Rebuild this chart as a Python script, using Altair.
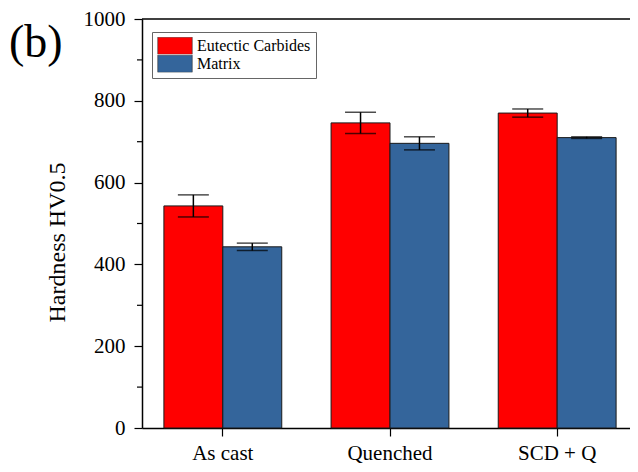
import altair as alt
import pandas as pd

categories = ["As cast", "Quenched", "SCD + Q"]
series = ["Eutectic Carbides", "Matrix"]
eutectic = [543, 746, 770]
eutectic_err = [27, 26, 10]
matrix = [443, 696, 710]
matrix_err = [9, 16, 2]
y_ticks = [0, 200, 400, 600, 800, 1000]
y_minor = [100, 300, 500, 700, 900]
colors = ["#FF0000", "#34659B"]

FONT = "Liberation Serif"
W, H = 496, 409

rows = []
for c, v, e in zip(categories, eutectic, eutectic_err):
    rows.append({"cat": c, "series": series[0], "val": v, "lo": v - e, "hi": v + e})
for c, v, e in zip(categories, matrix, matrix_err):
    rows.append({"cat": c, "series": series[1], "val": v, "lo": v - e, "hi": v + e})
df = pd.DataFrame(rows)

x_enc = alt.X(
    "cat:N", sort=categories,
    scale=alt.Scale(paddingInner=0.295, paddingOuter=0.131),
    axis=alt.Axis(title=None, labelFont=FONT, labelFontSize=21, labelColor="black",
                  labelPadding=6, tickSize=8, tickColor="black", tickWidth=1.2,
                  domainColor="black", domainWidth=1.5, labelAngle=0),
)
xo_enc = alt.XOffset("series:N", sort=series, scale=alt.Scale(paddingInner=0, paddingOuter=0))
y_scale = alt.Scale(domain=[0, 1000], nice=False)

base = alt.Chart(df)

bars = base.mark_bar(stroke="#1a1a1a", strokeWidth=1).encode(
    x=x_enc,
    xOffset=xo_enc,
    y=alt.Y("val:Q", scale=y_scale,
            axis=alt.Axis(values=y_ticks, format="d", title="Hardness HV0.5", grid=False,
                          labelFont=FONT, labelFontSize=21, labelColor="black",
                          labelPadding=9, tickSize=8, tickColor="black", tickWidth=1.2,
                          domainColor="black", domainWidth=1.5,
                          titleFont=FONT, titleFontSize=24, titleFontWeight="normal",
                          titleColor="black", titleX=-85, titleY=223,
                          titleAlign="center", titleBaseline="middle")),
    color=alt.Color("series:N", scale=alt.Scale(domain=series, range=colors),
                    legend=alt.Legend(title=None, orient="none", legendX=10, legendY=13,
                                      direction="vertical",
                                      symbolType="M-1,-0.5H1V0.5H-1Z", symbolSize=1190,
                                      symbolStrokeColor="#333", symbolStrokeWidth=0.6,
                                      symbolOpacity=1, clipHeight=17.5,
                                      labelFont=FONT, labelFontSize=16, labelColor="black",
                                      labelOffset=4, rowPadding=0,
                                      strokeColor="#666", padding=5, fillColor="white")),
)

err = base.mark_rule(color="black", strokeWidth=1.5).encode(
    x=x_enc, xOffset=xo_enc, y=alt.Y("lo:Q", scale=y_scale), y2="hi:Q")
cap_hi = base.mark_tick(color="black", thickness=1.5, size=31, orient="horizontal").encode(
    x=x_enc, xOffset=xo_enc, y=alt.Y("hi:Q", scale=y_scale))
cap_lo = base.mark_tick(color="black", thickness=1.5, size=31, orient="horizontal").encode(
    x=x_enc, xOffset=xo_enc, y=alt.Y("lo:Q", scale=y_scale))

minor = alt.Chart(pd.DataFrame({"v": y_minor})).mark_rule(color="black", strokeWidth=1.2).encode(
    y=alt.Y("v:Q", scale=y_scale), x=alt.value(-5), x2=alt.value(0))

top = alt.Chart(pd.DataFrame({"v": [1000]})).mark_rule(color="black", strokeWidth=1.5).encode(
    y=alt.Y("v:Q", scale=y_scale), x=alt.value(0), x2=alt.value(W))

label_b = alt.Chart(pd.DataFrame({"t": ["(b)"]})).mark_text(
    font=FONT, fontSize=46, align="left", baseline="middle", color="black").encode(
    x=alt.value(-133), y=alt.value(24), text="t:N")

chart = alt.layer(bars, err, cap_hi, cap_lo, minor, top, label_b).properties(
    width=W, height=H,
    autosize=alt.AutoSizeParams(type="none"),
    padding={"left": 134, "top": 11, "right": -8, "bottom": 36},
).configure(font=FONT, background="white").configure_view(stroke=None).configure_axis(
    labelFont=FONT, titleFont=FONT).configure_legend(labelFont=FONT)

chart.save("out.html", embed_options={"renderer": "svg", "actions": False})
